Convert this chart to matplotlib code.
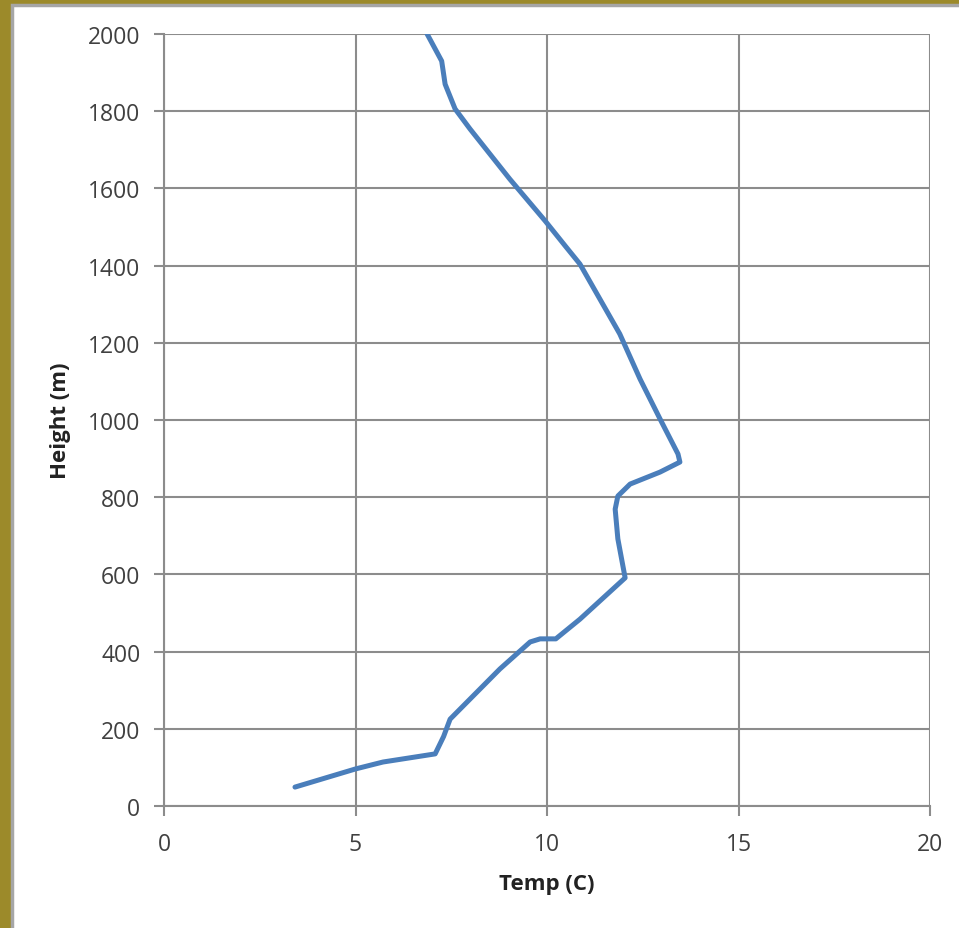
import matplotlib
matplotlib.use("Agg")
import matplotlib.pyplot as plt
from matplotlib.patches import Rectangle

# Temperature profile (smoothed Excel line)
temp_c = [3.42, 5.0, 5.72, 7.08, 7.3, 7.47, 7.73, 8.77, 9.56, 9.82, 10.23, 10.86,
          12.04, 11.85, 11.78, 11.85, 12.17, 12.95, 13.47, 13.42, 12.95,
          12.43, 11.9, 10.86, 10.5, 9.95, 9.03, 7.99, 7.6, 7.34, 7.25, 6.87]
height_m = [49, 96, 114, 135, 180, 225, 251, 355, 425, 433, 433, 484,
            591, 692, 769, 803, 834, 865, 891, 912, 1003,
            1106, 1223, 1404, 1448, 1516, 1624, 1754, 1806, 1870, 1930, 2000]

x_ticks = [0, 5, 10, 15, 20]
y_ticks = list(range(0, 2001, 200))

W, H = 959, 929
fig = plt.figure(figsize=(W / 100, H / 100), dpi=100)
fig.patch.set_facecolor("#9c8a2a")

# white chart panel with grey frame, kept behind the axes
panel = Rectangle((12 / W, -0.01), 1.0, 1.01 - 6 / H, transform=fig.transFigure,
                  facecolor="white", edgecolor="#a6a6a6", linewidth=2.5, zorder=-5)
fig.patches.append(panel)

ax = fig.add_axes([164 / W, 1 - 807 / H, (930 - 164) / W, (807 - 35) / H])
ax.plot(temp_c, height_m, color="#4a7ebb", linewidth=3.6,
        solid_joinstyle="round", solid_capstyle="round", zorder=3)

ax.set_xlim(0, 20)
ax.set_ylim(0, 2000)
ax.set_xticks(x_ticks)
ax.set_yticks(y_ticks)
ax.grid(True, color="#8c8c8c", linewidth=1.5)
ax.set_axisbelow(True)
for side in ["top", "right"]:
    ax.spines[side].set_visible(False)
for side in ["left", "bottom"]:
    ax.spines[side].set_color("#8c8c8c")
    ax.spines[side].set_linewidth(1.5)

ax.tick_params(direction="out", length=7, width=1.5, color="#8c8c8c",
               labelsize=16.5, labelcolor="#404040")
ax.tick_params(axis="x", pad=12)
ax.tick_params(axis="y", pad=10)
for lab in ax.get_xticklabels() + ax.get_yticklabels():
    lab.set_family("Open Sans")

ax.set_xlabel("Temp (C)", fontsize=16, fontweight="bold", family="Open Sans",
              color="#222222", labelpad=12)
ax.set_ylabel("Height (m)", fontsize=16, fontweight="bold", family="Open Sans",
              color="#222222", labelpad=12)

fig.savefig("out.png", dpi=100, facecolor=fig.get_facecolor())
